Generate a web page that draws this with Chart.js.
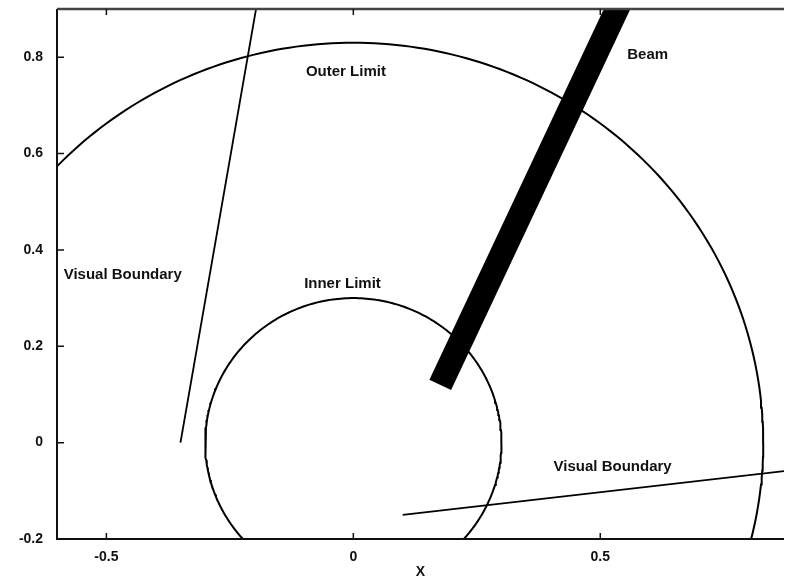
<!DOCTYPE html>
<html>
<head>
<meta charset="utf-8">
<script src="https://cdn.jsdelivr.net/npm/chart.js@4.4.1/dist/chart.umd.min.js"></script>
<style>
html,body{margin:0;padding:0;background:#fff;}
#wrap{width:792px;height:586px;position:relative;}
</style>
</head>
<body>
<div id="wrap"><canvas id="c" width="792" height="586"></canvas></div>
<script>
// ---- data ----
const circleCenter = [0, 0];
const innerLimitRadius = 0.3;
const outerLimitRadius = 0.83;
const beamX = [0.176, 0.58];
const beamY = [0.12, 1.0];
const visualBoundaryLeftX = [-0.35, -0.18];
const visualBoundaryLeftY = [0.0, 1.0];
const visualBoundaryRightX = [0.10, 0.95];
const visualBoundaryRightY = [-0.15, -0.05];
const labelTexts = ['Outer Limit', 'Beam', 'Visual Boundary', 'Inner Limit', 'Visual Boundary'];
const labelX = [-0.015, 0.596, -0.467, -0.022, 0.525];
const labelY = [0.77, 0.804, 0.349, 0.33, -0.05];
const xTickValues = [-0.5, 0, 0.5];
const yTickValues = [-0.2, 0, 0.2, 0.4, 0.6, 0.8];
const xRange = [-0.6, 0.872];
const yRange = [-0.2, 0.9];
const xTitle = 'X';

// build circle tables from center + radius
function circlePoints(r) {
  const pts = [];
  const n = 360;
  for (let i = 0; i <= n; i++) {
    const a = (i / n) * 2 * Math.PI;
    pts.push({x: circleCenter[0] + r * Math.cos(a), y: circleCenter[1] + r * Math.sin(a)});
  }
  return pts;
}
function pairPoints(xs, ys) { return xs.map((x, i) => ({x: x, y: ys[i]})); }

const FONT = '"Liberation Sans", Arial, Helvetica, sans-serif';

const framePlugin = {
  id: 'frame',
  afterDraw(chart) {
    const ctx = chart.ctx;
    const a = chart.chartArea;
    const xs = chart.scales.x, ys = chart.scales.y;
    ctx.save();
    // annotation labels
    ctx.fillStyle = '#111';
    ctx.font = 'bold 15px ' + FONT;
    ctx.textAlign = 'center';
    ctx.textBaseline = 'middle';
    labelTexts.forEach((t, i) => {
      ctx.fillText(t, xs.getPixelForValue(labelX[i]), ys.getPixelForValue(labelY[i]));
    });
    // frame (left, bottom, top)
    ctx.strokeStyle = '#111';
    ctx.lineWidth = 2;
    ctx.beginPath();
    ctx.moveTo(a.left, a.top); ctx.lineTo(a.left, a.bottom); ctx.lineTo(a.right, a.bottom);
    ctx.stroke();
    ctx.strokeStyle = '#444';
    ctx.lineWidth = 2.5;
    ctx.beginPath();
    ctx.moveTo(a.left, a.top); ctx.lineTo(a.right, a.top);
    ctx.stroke();
    // inward ticks
    ctx.strokeStyle = '#111';
    ctx.lineWidth = 1.5;
    ctx.beginPath();
    yTickValues.forEach(v => {
      const py = ys.getPixelForValue(v);
      ctx.moveTo(a.left, py); ctx.lineTo(a.left + 7, py);
    });
    xTickValues.forEach(v => {
      const px = xs.getPixelForValue(v);
      ctx.moveTo(px, a.bottom); ctx.lineTo(px, a.bottom - 6);
      ctx.moveTo(px, a.top); ctx.lineTo(px, a.top + 6);
    });
    ctx.stroke();
    ctx.restore();
  }
};

const lineDs = (label, data, width) => ({
  label: label, data: data, showLine: true, pointRadius: 0,
  borderColor: '#000', backgroundColor: '#000', borderWidth: width,
  fill: false, tension: 0, clip: 0, borderCapStyle: 'butt'
});

new Chart(document.getElementById('c'), {
  type: 'scatter',
  data: {
    datasets: [
      lineDs('Outer Limit', circlePoints(outerLimitRadius), 2),
      lineDs('Inner Limit', circlePoints(innerLimitRadius), 2),
      lineDs('Visual Boundary (left)', pairPoints(visualBoundaryLeftX, visualBoundaryLeftY), 1.8),
      lineDs('Visual Boundary (right)', pairPoints(visualBoundaryRightX, visualBoundaryRightY), 1.8),
      lineDs('Beam', pairPoints(beamX, beamY), 24)
    ]
  },
  options: {
    responsive: false,
    animation: false,
    layout: {padding: {left: 0, right: 8, top: 9, bottom: 0}},
    plugins: {legend: {display: false}, tooltip: {enabled: false}},
    scales: {
      x: {
        type: 'linear', position: 'bottom',
        min: xRange[0], max: xRange[1],
        afterFit: s => { s.height = 47; s.paddingLeft = 0; s.paddingRight = 0; },
        afterBuildTicks: s => { s.ticks = xTickValues.map(v => ({value: v})); },
        grid: {display: false, drawTicks: false},
        border: {display: false},
        ticks: {
          padding: 10, color: '#111', includeBounds: false,
          font: {family: FONT, size: 14, weight: 'bold'},
          callback: v => String(Number(v.toFixed(2)))
        },
        title: {display: true, text: xTitle, color: '#111',
          font: {family: FONT, size: 14, weight: 'bold'}, padding: {top: 0, bottom: 5}}
      },
      y: {
        type: 'linear', position: 'left',
        min: yRange[0], max: yRange[1],
        afterFit: s => { s.width = 57; s.paddingTop = 0; s.paddingBottom = 0; },
        afterBuildTicks: s => { s.ticks = yTickValues.map(v => ({value: v})); },
        grid: {display: false, drawTicks: false},
        border: {display: false},
        ticks: {
          padding: 14, color: '#111', includeBounds: false,
          font: {family: FONT, size: 14, weight: 'bold'},
          callback: v => String(Number(v.toFixed(2)))
        }
      }
    }
  },
  plugins: [framePlugin]
});
</script>
</body>
</html>
